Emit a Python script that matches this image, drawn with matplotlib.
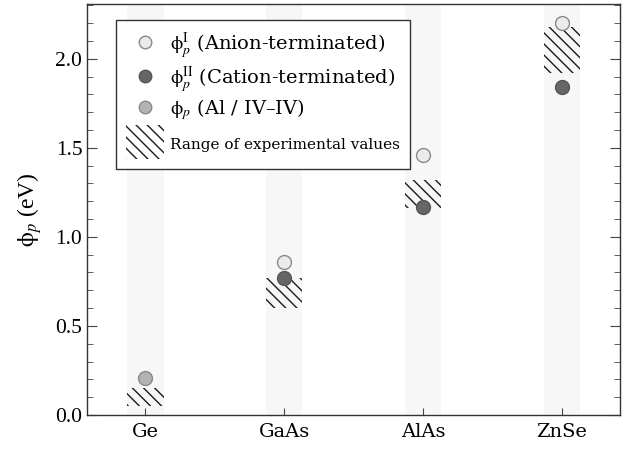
import numpy as np
import matplotlib
matplotlib.use('Agg')
from matplotlib import pyplot as plt
from matplotlib.patches import Rectangle
from matplotlib.lines import Line2D
from matplotlib.legend_handler import HandlerPatch

# Dados
materiais = ['Ge', 'GaAs', 'AlAs', 'ZnSe']
phi_anion = [np.nan, 0.86, 1.46, 2.20]    # phi_p^I  (terminação aniônica)
phi_cation = [np.nan, 0.77, 1.165, 1.84]  # phi_p^II (terminação catiônica)
phi_al = [0.205, np.nan, np.nan, np.nan]  # phi_p (Al / IV-IV)
exp_min = [0.05, 0.60, 1.16, 1.92]        # faixa experimental
exp_max = [0.15, 0.77, 1.32, 2.18]

plt.rcParams['mathtext.fontset'] = 'stix'
plt.rcParams['hatch.linewidth'] = 1.0
HACHURA = '\\\\\\'  # tres barras invertidas

x = np.arange(len(materiais))
largura = 0.26
y_topo = 2.31

fig, ax = plt.subplots(figsize=(6.32, 4.51), dpi=100)
fig.subplots_adjust(left=0.138, right=0.981, top=0.992, bottom=0.08)

# faixas cinza de fundo
ax.bar(x, y_topo, width=largura, color='#f7f7f7', zorder=0)

# faixa experimental (hachurada)
ax.bar(x, np.array(exp_max) - np.array(exp_min), bottom=exp_min, width=largura,
       facecolor='none', edgecolor='#1a1a1a', linewidth=0, hatch=HACHURA, zorder=1)

ax.plot(x, phi_anion, 'o', ms=10, mfc='#ebebeb', mec='#8a8a8a', mew=1.0, zorder=3)
ax.plot(x, phi_cation, 'o', ms=10, mfc='#666666', mec='#555555', mew=1.0, zorder=3)
ax.plot(x, phi_al, 'o', ms=10, mfc='#b3b3b3', mec='#8a8a8a', mew=1.0, zorder=3)

ax.set_xlim(-0.42, 3.42)
ax.set_ylim(0, y_topo)
ax.set_xticks(x)
ax.set_xticklabels(materiais, family='DejaVu Serif', fontsize=14)
ax.set_yticks(np.arange(0, 2.01, 0.5))
ax.set_yticklabels(['0.0', '0.5', '1.0', '1.5', '2.0'], family='Liberation Serif', fontsize=15.5)
ax.set_yticks(np.arange(0, 2.31, 0.1), minor=True)
ax.tick_params(axis='y', which='both', direction='in', right=True, color='#444444')
ax.tick_params(axis='y', which='major', length=7)
ax.tick_params(axis='y', which='minor', length=4)
ax.tick_params(axis='x', direction='in', length=5, color='#444444', pad=6)
ax.set_ylabel(r'$\mathrm{\phi}_p$ (eV)', family='Liberation Serif', fontsize=17, labelpad=8)
for s in ax.spines.values():
    s.set_color('#333333')
    s.set_linewidth(1.0)

# Legenda
class HandlerHatch(HandlerPatch):
    # caixa mais alta para a amostra hachurada
    def legend_artist(self, legend, orig_handle, fontsize, handlebox):
        handlebox.height = 1.75 * fontsize
        handlebox.ydescent = 0.55 * fontsize
        handlebox.width = 1.95 * fontsize
        p = Rectangle((0, -handlebox.ydescent), handlebox.width, handlebox.height,
                      facecolor='none', edgecolor='#1a1a1a', linewidth=0, hatch=HACHURA,
                      transform=handlebox.get_transform())
        handlebox.add_artist(p)
        return p

h1 = Line2D([], [], ls='none', marker='o', ms=9, mfc='#ebebeb', mec='#8a8a8a')
h2 = Line2D([], [], ls='none', marker='o', ms=9, mfc='#666666', mec='#555555')
h3 = Line2D([], [], ls='none', marker='o', ms=9, mfc='#b3b3b3', mec='#8a8a8a')
h4 = Rectangle((0, 0), 1, 1)
leg = ax.legend([h1, h2, h3, h4],
                [r'$\mathrm{\phi}_p^{\mathrm{I}}$ (Anion-terminated)',
                 r'$\mathrm{\phi}_p^{\mathrm{II}}$ (Cation-terminated)',
                 r'$\mathrm{\phi}_p$ (Al / IV–IV)',
                 'Range of experimental values'],
                handler_map={Rectangle: HandlerHatch()},
                loc='upper left', bbox_to_anchor=(0.054, 0.959), borderaxespad=0,
                prop={'family': 'DejaVu Serif', 'size': 14},
                fancybox=False, edgecolor='#333333', framealpha=1,
                handlelength=1.95, handleheight=0.9, handletextpad=0.35,
                labelspacing=0.15, borderpad=0.5)
leg.get_frame().set_linewidth(1.0)
leg.get_texts()[3].set_fontsize(11)

plt.savefig('out.png', dpi=100)
